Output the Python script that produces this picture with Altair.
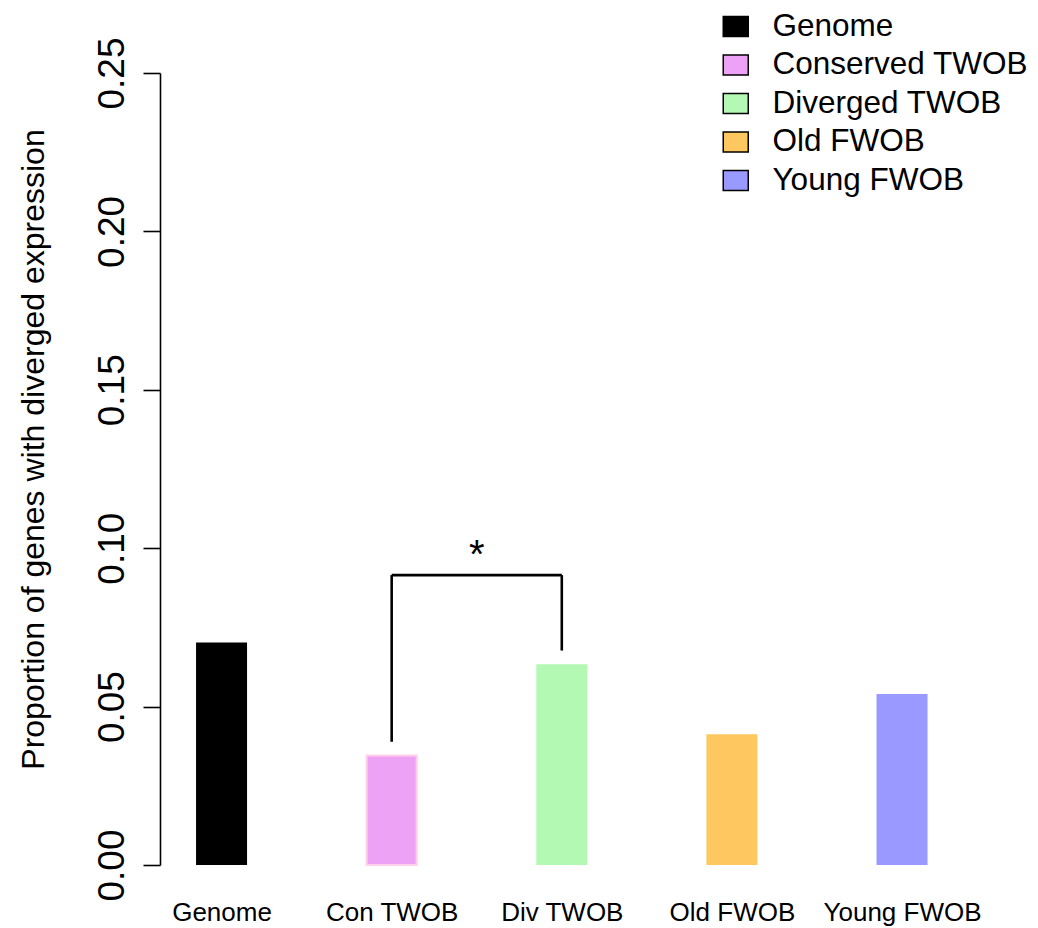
import altair as alt
import pandas as pd

# ---- data ----
labels = ["Genome", "Con TWOB", "Div TWOB", "Old FWOB", "Young FWOB"]
legend_names = ["Genome", "Conserved TWOB", "Diverged TWOB", "Old FWOB", "Young FWOB"]
values = [0.0702, 0.0346, 0.0634, 0.0413, 0.0540]
colors = ["#000000", "#EEA2F6", "#B3F9B3", "#FFC75F", "#9999FF"]

# significance bracket between Con TWOB (1) and Div TWOB (2)
bracket_x = [1, 1, 2]
bracket_x2 = [1, 2, 2]
bracket_y = [0.0389, 0.0915, 0.0677]
bracket_y2 = [0.0915, 0.0915, 0.0915]
sig_x = [1.5]
sig_y = [0.0915]
sig_text = ["*"]

FONT = "Liberation Sans"

bars_df = pd.DataFrame({
    "pos": list(range(len(labels))),
    "label": labels,
    "group": legend_names,
    "value": values,
})
bracket_df = pd.DataFrame({"x": bracket_x, "x2": bracket_x2, "y": bracket_y, "y2": bracket_y2})
sig_df = pd.DataFrame({"x": sig_x, "y": sig_y, "t": sig_text})

label_expr = "[" + ",".join("'" + l + "'" for l in labels) + "][datum.value]"

x_scale = alt.Scale(domain=[-0.3324, 4.7228], nice=False, zero=False)
y_scale = alt.Scale(domain=[0, 0.25], nice=False, zero=True)

x_axis = alt.Axis(
    values=list(range(len(labels))), labelExpr=label_expr, title=None,
    domain=False, ticks=False, grid=False, labelFontSize=26, labelFont=FONT,
    labelColor="black", labelPadding=34, labelFlush=False, labelOverlap=False,
    labelBaseline="top",
)
y_axis = alt.Axis(
    values=[0, 0.05, 0.10, 0.15, 0.20, 0.25], format=".2f",
    title="Proportion of genes with diverged expression",
    titleFontSize=32, titleFont=FONT, titleFontWeight="normal", titleColor="black",
    titleAngle=-90, titleX=-117, titleY=376, titleAlign="center", titleBaseline="alphabetic",
    labelAngle=-90, labelAlign="center", labelBaseline="alphabetic",
    labelFontSize=37, labelFont=FONT, labelColor="black", labelPadding=20,
    tickSize=17, tickWidth=1.6, tickColor="black", domainColor="black", domainWidth=1.6,
    grid=False, labelFlush=False, labelOverlap=False,
)

bars = alt.Chart(bars_df).mark_bar(size=51).encode(
    x=alt.X("pos:Q", scale=x_scale, axis=x_axis),
    y=alt.Y("value:Q", scale=y_scale, axis=y_axis),
    color=alt.Color(
        "group:N",
        scale=alt.Scale(domain=legend_names, range=colors),
        sort=legend_names,
        legend=alt.Legend(
            orient="none", legendX=560, legendY=-62.25, title=None,
            symbolType="M-1.25,-1H1.25V1H-1.25Z", symbolSize=400,
            symbolStrokeColor="black", symbolStrokeWidth=1.5, symbolOpacity=1,
            labelFontSize=31.5, labelFont=FONT, labelColor="black",
            labelOffset=21, labelLimit=500, rowPadding=5.5, padding=0,
        ),
    ),
)

con_border = alt.Chart(bars_df).transform_filter(
    alt.datum.label == "Con TWOB"
).mark_bar(size=50, fillOpacity=0, stroke="#FFD0EA", strokeWidth=2).encode(
    x=alt.X("pos:Q", scale=x_scale),
    y=alt.Y("value:Q", scale=y_scale),
)

bracket = alt.Chart(bracket_df).mark_rule(color="black", strokeWidth=2.6).encode(
    x=alt.X("x:Q", scale=x_scale),
    x2="x2:Q",
    y=alt.Y("y:Q", scale=y_scale),
    y2="y2:Q",
)

sig = alt.Chart(sig_df).mark_text(
    fontSize=40, font=FONT, color="black", baseline="alphabetic", align="center", dy=-7
).encode(
    x=alt.X("x:Q", scale=x_scale),
    y=alt.Y("y:Q", scale=y_scale),
    text="t:N",
)

chart = alt.layer(bars, con_border, bracket, sig).properties(
    width=870, height=792,
    autosize=alt.AutoSizeParams(type="none"),
    padding={"left": 152, "top": 65, "right": 0, "bottom": 63},
    background="white",
).configure_view(stroke=None)

chart.save("out.html", embed_options={"renderer": "svg", "actions": False})
